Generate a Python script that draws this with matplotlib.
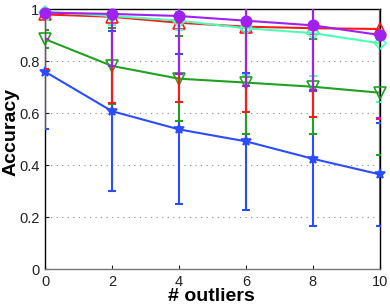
import numpy as np
import matplotlib
matplotlib.use("Agg")
import matplotlib.pyplot as plt

plt.rcParams['font.family'] = ['Liberation Sans', 'DejaVu Sans']

# donnees
n_outliers = [0, 2, 4, 6, 8, 10]

acc_blue = [0.76, 0.608, 0.538, 0.492, 0.425, 0.365]
err_blue = [0.222, 0.308, 0.288, 0.264, 0.26, 0.197]

acc_green = [0.885, 0.782, 0.733, 0.718, 0.702, 0.679]
err_green = [0.035, 0.145, 0.164, 0.196, 0.183, 0.24]

acc_red = [0.98, 0.971, 0.948, 0.933, 0.927, 0.924]
err_red = [0.21, 0.33, 0.305, 0.33, 0.34, 0.347]

acc_cyan = [0.99, 0.974, 0.956, 0.927, 0.908, 0.869]
err_cyan = [0.03, 0.035, 0.035, 0.18, 0.165, 0.224]

acc_purple = [0.987, 0.982, 0.974, 0.956, 0.938, 0.901]
err_purple = [0.1, 0.2, 0.223, 0.25, 0.25, 0.32]

yticks = [0, 0.2, 0.4, 0.6, 0.8, 1]
ytick_labels = ["0", "0.2", "0.4", "0.6", "0.8", "1"]

fig = plt.figure(figsize=(3.9, 3.08), dpi=100)
ax = fig.add_axes([0.1154, 0.1256, 0.8586, 0.8444])

series = [
    (acc_blue, err_blue, "#2b4cff", "*", "#2b4cff", 7),
    (acc_green, err_green, "#22a022", "v", "none", 8),
    (acc_red, err_red, "#ff1a1a", "^", "none", 8),
    (acc_cyan, err_cyan, "#4dffb8", "D", "none", 6),
    (acc_purple, err_purple, "#a020f0", "o", "#a020f0", 7.5),
]
for i, (y, e, c, m, fc, ms) in enumerate(series):
    ax.errorbar(n_outliers, y, yerr=e, color=c, linewidth=1.5,
                elinewidth=1.5, capsize=3, capthick=1.5, zorder=3 + i)
    # marqueurs non coupés aux bords comme dans l'original
    ax.plot(n_outliers, y, linestyle="none", marker=m, markersize=ms,
            markerfacecolor=fc, markeredgecolor=c, markeredgewidth=1.2,
            zorder=3 + i, clip_on=False)

ax.set_xlim(0, 10)
ax.set_ylim(0, 1)
ax.set_xticks(n_outliers)
ax.set_yticks(yticks)
ax.set_yticklabels(ytick_labels)
ax.tick_params(direction="in", length=3, labelsize=10.5, colors="#222222", pad=4)
ax.yaxis.grid(True, linestyle=(0, (1, 4)), color="#888888", linewidth=0.8)
ax.set_axisbelow(True)
for s in ax.spines.values():
    s.set_linewidth(1.0)
ax.spines["bottom"].set_color("#777777")

ax.set_xlabel("# outliers", fontsize=14, fontweight="bold")
ax.set_ylabel("Accuracy", fontsize=14, fontweight="bold")
ax.xaxis.set_label_coords(0.496, -0.07)
ax.yaxis.set_label_coords(-0.076, 0.528)

fig.savefig("out.png", dpi=100)
